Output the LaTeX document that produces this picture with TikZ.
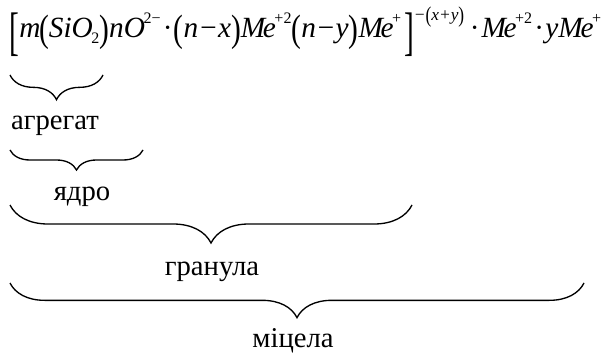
\documentclass[tikz,border=0pt]{standalone}
\usepackage{fontspec}
\setmainfont{Liberation Serif}
\usepackage{graphicx}
\usetikzlibrary{decorations.pathreplacing}

\newcommand{\tallpar}[1]{\raisebox{-0.12em}{\scalebox{1}[1.3]{\upshape #1}}}
\newcommand{\tallsq}[1]{\raisebox{-0.38em}{\scalebox{1}[1.8]{\upshape #1}}}
\newcommand{\chg}[1]{\kern-0.05em\raisebox{0.5em}{\fontsize{12pt}{14pt}\selectfont\upshape #1}}
\newcommand{\Mee}{M\kern-0.08em e}

\begin{document}
\begin{tikzpicture}[x=0.75pt, y=-0.75pt, line width=1pt,
    under/.style={decorate, decoration={brace, mirror, amplitude=#1}},
    lbl/.style={font=\fontsize{21.5pt}{25pt}\selectfont, inner sep=0pt, anchor=base}]
    \useasboundingbox (0,0) rectangle (604,353);

    \node[anchor=base west, inner sep=0pt, font=\fontsize{22pt}{26pt}\selectfont\itshape] (formula) at (9,38)
      {\tallsq{[}m\kern-0.05em\tallpar{(}SiO\kern-0.05em\raisebox{-0.2em}{\fontsize{12pt}{14pt}\selectfont\upshape 2}\tallpar{)}nO\chg{2−}\kern0.1em·\kern0.1em\tallpar{(}n−x\tallpar{)}\Mee\chg{+2}\tallpar{(}n−y\tallpar{)}\Mee\chg{+}\kern0.1em\tallsq{]}\raisebox{0.6em}{\fontsize{13pt}{15pt}\selectfont −\tallpar{(}x+y\tallpar{)}}\kern0.22em·\kern0.12em\Mee\chg{+2}\kern0.1em·\kern0.1em y\Mee\chg{+}};

    % braces under the formula
    \coordinate (a1) at (10,75);
    \coordinate (a2) at (103,75);
    \coordinate (b1) at (10,150);
    \coordinate (b2) at (143,150);
    \coordinate (c1) at (10,205);
    \coordinate (c2) at (412,205);
    \coordinate (d1) at (10,283);
    \coordinate (d2) at (584,283);

    \draw[under=18.5pt] (a1) -- (a2);
    \draw[under=15pt] (b1) -- (b2);
    \draw[under=28.5pt] (c1) -- (c2);
    \draw[under=26pt] (d1) -- (d2);

    \node[lbl] (agregat) at (55,130) {агрегат};
    \node[lbl] (yadro) at (82,200) {ядро};
    \node[lbl] (granula) at (212,275) {гранула};
    \node[lbl] (mitsela) at (293,347) {міцела};
\end{tikzpicture}
\end{document}
